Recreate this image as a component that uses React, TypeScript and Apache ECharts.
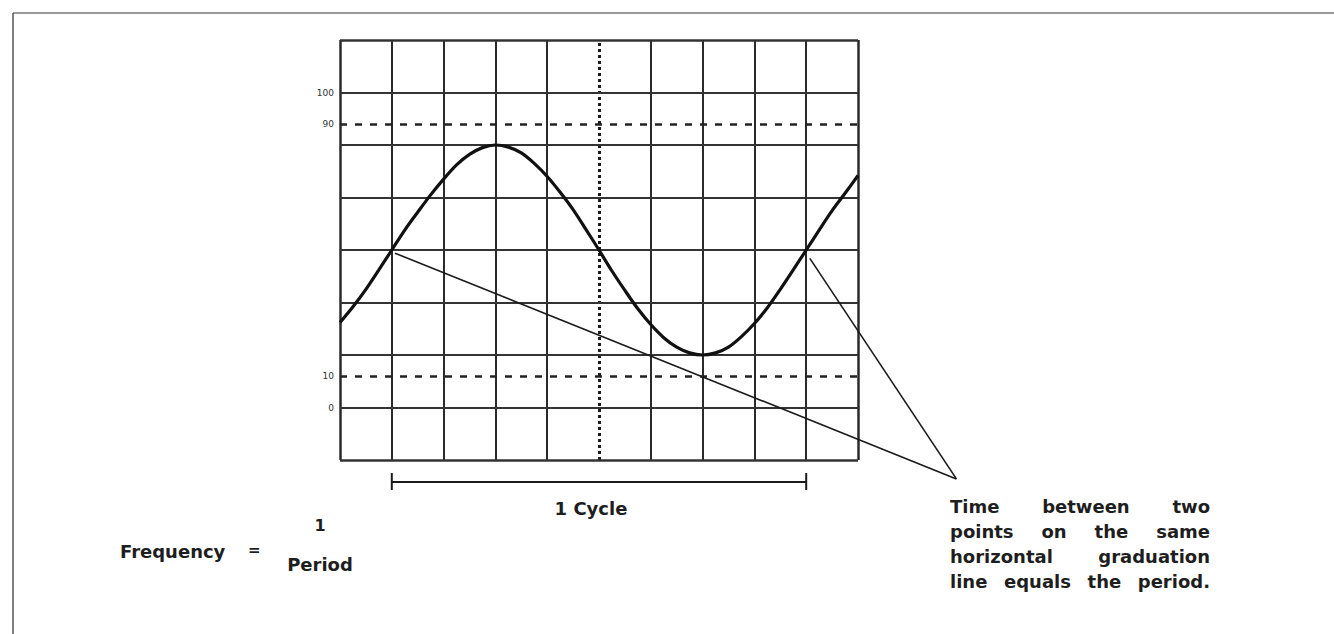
import React, { useEffect, useRef } from "react";
import * as echarts from "echarts";

// Trace (x and y in screen divisions; grid is 10 x 8 divisions)
const traceX = [
  0, 0.25, 0.5, 0.75, 1, 1.25, 1.5, 1.75, 2, 2.25, 2.5, 2.75, 3, 3.25, 3.5, 3.75, 4, 4.25, 4.5, 4.75,
  5, 5.25, 5.5, 5.75, 6, 6.25, 6.5, 6.75, 7, 7.25, 7.5, 7.75, 8, 8.25, 8.5, 8.75, 9, 9.25, 9.5, 9.75, 10,
];
const traceY = [
  2.62, 2.92, 3.25, 3.62, 4.0, 4.38, 4.72, 5.05, 5.35, 5.62, 5.82, 5.95, 6.0, 5.96, 5.85, 5.65, 5.4, 5.1, 4.77, 4.39,
  4.0, 3.6, 3.23, 2.88, 2.58, 2.33, 2.15, 2.04, 2.0, 2.04, 2.15, 2.35, 2.6, 2.9, 3.25, 3.62, 4.0, 4.38, 4.75, 5.08, 5.42,
];

// Graduation labels on the left (percent of the 0..100 span)
const yTickPercents = [0, 10, 90, 100];
const yTickLabels = ["0", "10", "90", "100"];
const dashedPercents = [10, 90];

// Grid divisions
const xDivisions = [0, 1, 2, 3, 4, 5, 6, 7, 8, 9, 10];
const yDivisions = [0, 1, 2, 3, 4, 5, 6, 7, 8];
const centerX = 5;

// Period annotation: crossing points and the common pointer tip (in divisions)
const crossingA = [1.06, 3.94];
const crossingB = [9.07, 3.84];
const pointerTip = [11.9, -0.36];

// One-cycle bracket (in divisions)
const cycleStart = 1;
const cycleEnd = 9;
const bracketLevel = -0.42;
const cycleLabel = "1 Cycle";

const noteLines = [
  "Time between two",
  "points on the same",
  "horizontal graduation",
  "line equals the period.",
];

const pctToDiv = (p: number) => 1 + (p * 6) / 100;

const FONT = '"DejaVu Sans", "Liberation Sans", sans-serif';
const INK = "#1e1e1e";

function justifiedLine(text: string, left: number, right: number, y: number, size: number) {
  const words = text.split(" ");
  const c = document.createElement("canvas").getContext("2d")!;
  c.font = `bold ${size}px "DejaVu Sans"`;
  const widths = words.map((w) => c.measureText(w).width);
  const total = widths.reduce((a, b) => a + b, 0);
  const gap = words.length > 1 ? (right - left - total) / (words.length - 1) : 0;
  let x = left;
  return words.map((w, i) => {
    const el = {
      type: "text",
      x,
      y,
      style: {
        text: w,
        fill: INK,
        font: `bold ${size}px ${FONT}`,
        verticalAlign: "middle",
      },
    };
    x += widths[i] + gap;
    return el;
  });
}

export default function App() {
  const ref = useRef<HTMLDivElement>(null);

  useEffect(() => {
    if (!ref.current) return;
    const chart = echarts.init(ref.current, undefined, { renderer: "svg" });

    const gridColor = "#2a2a2a";
    const markData: any[] = [];
    xDivisions.forEach((v) => {
      if (v === centerX) return;
      markData.push({ xAxis: v, lineStyle: { color: gridColor, width: v === 0 || v === 10 ? 2.5 : 2, type: "solid" } });
    });
    markData.push({ xAxis: centerX, lineStyle: { color: "#1a1a1a", width: 3, type: [3, 3] } });
    yDivisions.forEach((v) => {
      markData.push({ yAxis: v, lineStyle: { color: "#333", width: v === 0 || v === 8 ? 2.5 : 2, type: "solid" } });
    });
    dashedPercents.forEach((p) => {
      markData.push({ yAxis: pctToDiv(p), lineStyle: { color: "#222", width: 2.5, type: [7, 8] } });
    });

    chart.setOption({
      animation: false,
      backgroundColor: "#ffffff",
      grid: { left: 340, top: 40, width: 518, height: 420 },
      xAxis: { type: "value", min: 0, max: 10, interval: 1, show: false },
      yAxis: {
        type: "value",
        min: 0,
        max: 8,
        interval: 1,
        axisLine: { show: false },
        axisTick: { show: false },
        splitLine: { show: false },
        axisLabel: {
          customValues: yTickPercents.map(pctToDiv),
          formatter: (v: number) => {
            const idx = yTickPercents.findIndex((p) => Math.abs(pctToDiv(p) - v) < 1e-6);
            return idx >= 0 ? yTickLabels[idx] : "";
          },
          fontSize: 9,
          color: "#333",
          margin: 6,
          fontFamily: FONT,
        },
      },
      series: [
        {
          type: "line",
          data: [],
          silent: true,
          markLine: {
            silent: true,
            symbol: ["none", "none"],
            label: { show: false },
            emphasis: { disabled: true },
            data: markData,
          },
          z: 1,
        },
        {
          type: "line",
          data: traceX.map((x, i) => [x, traceY[i]]),
          smooth: 0.3,
          showSymbol: false,
          symbol: "none",
          silent: true,
          z: 5,
          lineStyle: { color: "#111", width: 3.2 },
        },
      ],
    });

    const px = (p: number[]) => chart.convertToPixel({ gridIndex: 0 }, p) as number[];
    const a = px(crossingA);
    const b = px(crossingB);
    const tip = px(pointerTip);
    const bl = px([cycleStart, bracketLevel]);
    const br = px([cycleEnd, bracketLevel]);

    const texts: any[] = [];
    noteLines.forEach((line, i) => {
      texts.push(...justifiedLine(line, 950, 1210, 506 + i * 25, 18));
    });

    const seg = (p: number[], q: number[], w: number) => ({
      type: "line",
      silent: true,
      z: 10,
      shape: { x1: p[0], y1: p[1], x2: q[0], y2: q[1] },
      style: { stroke: "#1a1a1a", lineWidth: w },
    });

    chart.setOption({
      graphic: [
        { type: "line", shape: { x1: 13, y1: 13, x2: 1334, y2: 13 }, style: { stroke: "#777", lineWidth: 1.5 } },
        { type: "line", shape: { x1: 13, y1: 13, x2: 13, y2: 634 }, style: { stroke: "#555", lineWidth: 1.5 } },
        seg(a, tip, 1.6),
        seg(b, tip, 1.6),
        seg(bl, br, 2),
        seg([bl[0], bl[1] - 9], [bl[0], bl[1] + 8], 2),
        seg([br[0], br[1] - 9], [br[0], br[1] + 8], 2),
        {
          type: "text",
          x: (bl[0] + br[0]) / 2 - 8,
          y: 508,
          style: { text: cycleLabel, fill: INK, font: `bold 18px ${FONT}`, align: "center", verticalAlign: "middle" },
        },
        {
          type: "text",
          x: 120,
          y: 551,
          style: { text: "Frequency", fill: INK, font: `bold 18px ${FONT}`, align: "left", verticalAlign: "middle" },
        },
        {
          type: "text",
          x: 248,
          y: 550,
          style: { text: "=", fill: INK, font: `bold 15px ${FONT}`, align: "left", verticalAlign: "middle" },
        },
        {
          type: "text",
          x: 320,
          y: 525,
          style: { text: "1", fill: INK, font: `bold 16px ${FONT}`, align: "center", verticalAlign: "middle" },
        },
        {
          type: "text",
          x: 320,
          y: 564,
          style: { text: "Period", fill: INK, font: `bold 18px ${FONT}`, align: "center", verticalAlign: "middle" },
        },
        ...texts,
      ],
    });

    return () => chart.dispose();
  }, []);

  return (
    <div
      ref={ref}
      style={{ position: "absolute", left: 0, top: 0, width: 1334, height: 634 }}
    />
  );
}
